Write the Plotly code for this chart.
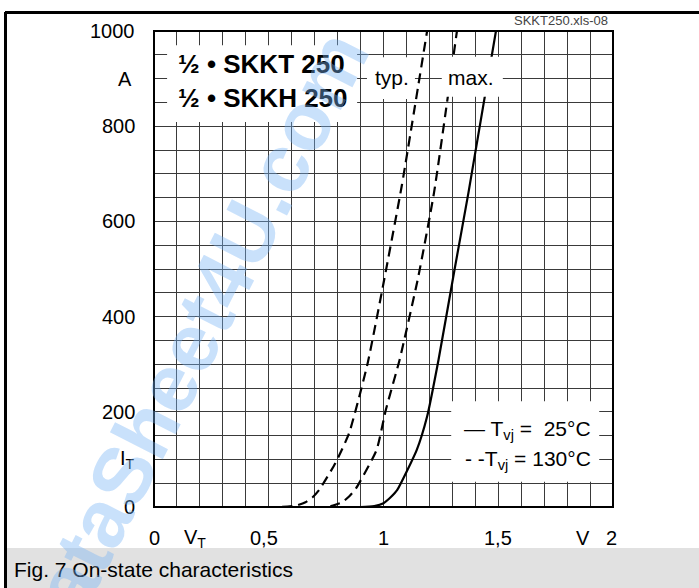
import plotly.graph_objects as go

# ---------------- data ----------------
v_typ_130 = [0.35, 0.55, 0.62, 0.66, 0.69, 0.72, 0.79, 0.85, 0.93, 1.00, 1.08, 1.19]
i_typ_130 = [0, 0, 3, 10, 20, 36, 92, 155, 300, 470, 676, 1000]

v_max_130 = [0.35, 0.75, 0.78, 0.82, 0.85, 0.88, 0.97, 1.01, 1.07, 1.15, 1.22, 1.32]
i_max_130 = [0, 0, 3, 10, 22, 39, 120, 204, 309, 480, 660, 1000]

v_25 = [0.35, 0.90, 0.96, 1.00, 1.03, 1.06, 1.145, 1.19, 1.24, 1.31, 1.37, 1.49]
i_25 = [0, 0, 2, 8, 20, 36, 120, 190, 310, 500, 660, 1000]

y_label_vals = [0, 100, 200, 400, 600, 800, 900, 1000]
y_label_text = ["0", "I<sub>T</sub>", "200", "400", "600", "800", "A", "1000"]
x_label_vals = [0, 0.18, 0.48, 1.0, 1.5, 1.87, 1.995]
x_label_text = ["0", "V<sub>T</sub>", "0,5", "1", "1,5", "V", "2"]

title_lines = ["½ • SKKT 250", "½ • SKKH 250"]
curve_labels = ["typ.", "max."]
legend_lines = ["— T<sub>vj</sub> =  25°C", "- -T<sub>vj</sub> = 130°C"]
caption = "Fig. 7 On-state characteristics"
file_tag = "SKKT250.xls-08"

FONT = "Liberation Sans, Arial, sans-serif"
X_MAX, Y_MAX = 2.0, 1000.0

fig = go.Figure()
dash = "10px,6px"
fig.add_trace(go.Scatter(x=v_typ_130, y=i_typ_130, mode="lines",
                         line=dict(color="black", width=2.2, dash=dash, shape="spline", smoothing=0.5),
                         cliponaxis=True, showlegend=False))
fig.add_trace(go.Scatter(x=v_max_130, y=i_max_130, mode="lines",
                         line=dict(color="black", width=2.2, dash=dash, shape="spline", smoothing=0.5),
                         cliponaxis=True, showlegend=False))
fig.add_trace(go.Scatter(x=v_25, y=i_25, mode="lines",
                         line=dict(color="black", width=2.2, shape="spline", smoothing=0.5),
                         cliponaxis=True, showlegend=False))


def px_x(p):
    return (p - 154) / 459


def px_y(p):
    return (507 - p) / 476


shapes = []
# white boxes over the grid and curves
for (x0, x1, y0, y1) in [(0.057, 0.885, 809, 970),
                         (0.928, 1.137, 857, 945),
                         (1.254, 1.52, 862, 946),
                         (1.295, 1.94, 53, 222)]:
    shapes.append(dict(type="rect", xref="x", yref="y", x0=x0, x1=x1, y0=y0, y1=y1,
                       fillcolor="white", line=dict(width=0), layer="above"))
# plot frame
shapes.append(dict(type="rect", xref="paper", yref="paper", x0=0, x1=1, y0=0, y1=1,
                   line=dict(color="black", width=2), layer="above"))
# caption band
shapes.append(dict(type="rect", xref="paper", yref="paper",
                   x0=px_x(7), x1=px_x(700), y0=px_y(590), y1=px_y(548),
                   fillcolor="#e1e1e1", line=dict(width=0), layer="below"))
# outer frame lines (top and left)
shapes.append(dict(type="line", xref="paper", yref="paper",
                   x0=px_x(5), x1=px_x(700), y0=px_y(12.5), y1=px_y(12.5),
                   line=dict(color="black", width=3)))
shapes.append(dict(type="line", xref="paper", yref="paper",
                   x0=px_x(5.5), x1=px_x(5.5), y0=px_y(12), y1=px_y(592),
                   line=dict(color="black", width=3)))

ann = []
for v, t in zip(y_label_vals, y_label_text):
    xa = px_x(134) if t == "A" else px_x(137)
    ann.append(dict(x=xa, y=v / Y_MAX, xref="paper", yref="paper", text=t, showarrow=False,
                    xanchor="right", yanchor="middle", font=dict(size=20, color="black", family=FONT)))
for v, t in zip(x_label_vals, x_label_text):
    ann.append(dict(x=v / X_MAX, y=px_y(538), xref="paper", yref="paper", text=t, showarrow=False,
                    xanchor="center", yanchor="middle", font=dict(size=20, color="black", family=FONT)))
for k, t in enumerate(title_lines):
    ann.append(dict(x=0.095, y=[930, 859][k], xref="x", yref="y", text=t, showarrow=False,
                    xanchor="left", yanchor="middle",
                    font=dict(size=26, color="black", family=FONT, weight="bold")))
for xv, t in zip([1.039, 1.383], curve_labels):
    ann.append(dict(x=xv, y=903, xref="x", yref="y", text=t, showarrow=False,
                    xanchor="center", yanchor="middle", font=dict(size=21, color="black", family=FONT)))
for k, t in enumerate(legend_lines):
    ann.append(dict(x=1.913, y=[162, 99][k], xref="x", yref="y", text=t, showarrow=False,
                    xanchor="right", yanchor="middle", font=dict(size=21, color="black", family=FONT)))
ann.append(dict(x=px_x(561), y=px_y(20), xref="paper", yref="paper",
                text=file_tag, showarrow=False, xanchor="center", yanchor="middle",
                font=dict(size=13, color="#444", family=FONT)))
ann.append(dict(x=px_x(12), y=px_y(569), xref="paper", yref="paper",
                text=caption, showarrow=False, xanchor="left", yanchor="middle",
                font=dict(size=21, color="black", family=FONT)))
# watermark
ann.append(dict(x=px_x(187), y=px_y(348), xref="paper", yref="paper",
                text="DataSheet4U.com", showarrow=False, textangle=-63,
                xanchor="center", yanchor="middle",
                font=dict(size=82, color="rgba(120,180,245,0.4)", family=FONT, weight="bold")))

fig.update_layout(
    width=699, height=588,
    margin=dict(l=154, r=86, t=31, b=81),
    paper_bgcolor="white", plot_bgcolor="white",
    xaxis=dict(range=[0, X_MAX], dtick=0.1, tick0=0, showticklabels=False, ticks="",
               showgrid=True, gridcolor="#3a3a3a", gridwidth=1, zeroline=False, showline=False,
               fixedrange=True),
    yaxis=dict(range=[0, Y_MAX], dtick=50, tick0=0, showticklabels=False, ticks="",
               showgrid=True, gridcolor="#3a3a3a", gridwidth=1, zeroline=False, showline=False,
               fixedrange=True),
    shapes=shapes, annotations=ann, showlegend=False,
)

fig.write_html("out.html", config={"displayModeBar": False},
               post_script="document.body.style.margin='0px';")
